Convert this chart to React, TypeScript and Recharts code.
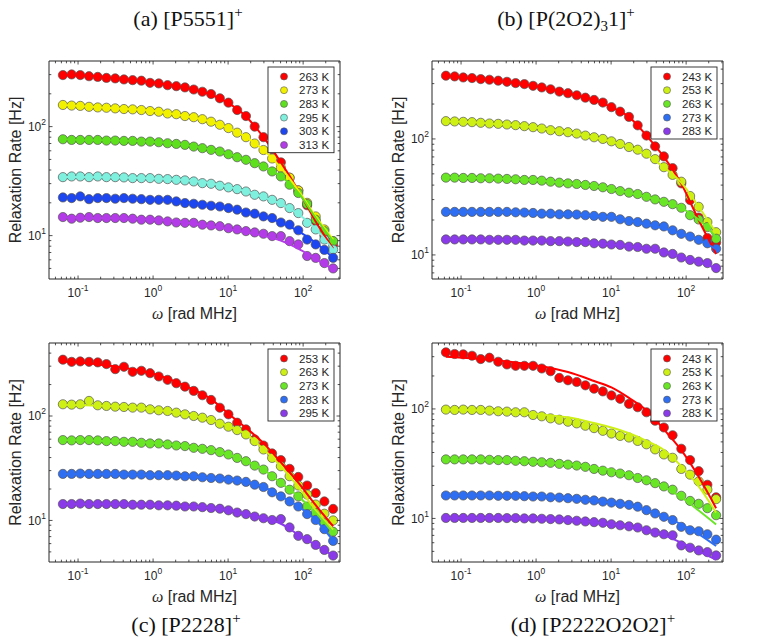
import React from 'react';
import { ComposedChart, Scatter, Line, XAxis, YAxis, ReferenceArea } from 'recharts';

const SANS = '"Liberation Sans", Arial, Helvetica, sans-serif';
const SERIF = '"Liberation Serif", "Times New Roman", serif';
const AX = '#262626';

// measured frequencies, rad MHz
const OMEGA = [0.0628, 0.0821, 0.107, 0.14, 0.183, 0.239, 0.313, 0.409, 0.534, 0.698, 0.912, 1.19, 1.56, 2.04, 2.66, 3.48, 4.54, 5.93, 7.76, 10.1, 13.2, 17.3, 22.6, 29.6, 38.6, 50.5, 66.0, 86.2, 113, 147, 192, 251];
// where the fitted curves are sampled
const FIT_OMEGA = [0.0628, 0.107, 0.239, 0.534, 1.19, 2.66, 5.93, 10.1, 17.3, 29.6, 50.5, 86.2, 147, 251];

const X_DOMAIN = [0.041, 310];
const X_TICKS = [0.05, 0.06, 0.07, 0.08, 0.09, 0.1, 0.2, 0.3, 0.4, 0.5, 0.6, 0.7, 0.8, 0.9, 1, 2, 3, 4, 5, 6, 7, 8, 9, 10, 20, 30, 40, 50, 60, 70, 80, 90, 100, 200, 300];

// (a) [P5551]+
const A_TEMPS = ['263 K', '273 K', '283 K', '295 K', '303 K', '313 K'];
const A_COLORS = ['#ff0000', '#f2f200', '#5ee01e', '#7ff0de', '#1e46f0', '#b43ce8'];
const a263 = [297, 301, 297, 290, 286, 280, 277, 271, 267, 264, 252, 249, 240, 235, 229, 219, 209, 199, 182, 166, 142, 125, 100, 80, 62, 47, 34, 26, 19, 13.5, 10, 8.2];
const a273 = [158, 156, 155, 152, 150, 149, 147, 145, 144, 142, 139, 137, 132, 130, 125, 122, 117, 111, 104, 97, 88, 80, 70, 61, 51, 42, 34, 26, 20, 15, 11.4, 8.9];
const a283 = [76.6, 75.5, 75.5, 75.5, 75.5, 74.5, 74.5, 74.0, 74.0, 72.9, 72.9, 71.9, 70.4, 69.4, 68.0, 65.6, 63.4, 61.2, 59.1, 55.8, 52.4, 49.6, 46.2, 43.1, 38.8, 34.9, 29.3, 24.6, 19.5, 14.0, 11.0, 8.9];
const a295 = [34.4, 34.9, 34.9, 34.4, 34.9, 34.4, 34.4, 34.2, 33.7, 33.7, 33.7, 33.2, 33.0, 32.5, 32.1, 31.4, 30.3, 29.9, 28.7, 27.7, 26.7, 25.4, 23.7, 22.9, 21.3, 19.9, 17.9, 16.1, 13.1, 11.4, 9.2, 7.45];
const a303 = [22.4, 22.1, 22.9, 21.6, 22.1, 22.1, 21.8, 22.1, 21.8, 21.6, 21.3, 21.3, 21.3, 20.6, 19.9, 19.6, 19.2, 18.8, 18.5, 17.9, 17.3, 16.3, 15.9, 15.0, 14.5, 13.2, 12.6, 11.2, 9.2, 8.3, 7.4, 6.25];
const a313 = [14.8, 14.3, 14.6, 14.8, 14.5, 14.5, 14.5, 14.5, 14.3, 14.0, 14.0, 13.8, 13.5, 13.2, 13.1, 13.1, 12.6, 12.4, 12.2, 11.7, 11.4, 11.0, 10.7, 10.4, 9.9, 9.9, 8.9, 8.3, 6.5, 6.25, 5.6, 5.0];
const a263Fit = [298, 296, 284, 268, 250, 228, 196, 164, 124, 80, 47, 26, 13.5, 7.6];
const a273Fit = [158, 155, 149, 144, 137, 125, 111, 97, 80, 61, 42, 26, 15, 9.2];
const a283Fit = [76.5, 75.5, 74.8, 74, 72, 68, 61.5, 56, 49.6, 43, 35, 24.8, 14.5, 8.9];
const a295Fit = [34.5, 34.5, 34.4, 34, 33.3, 32.2, 30.2, 28, 25.5, 22.5, 19.5, 15.8, 11.6, 7.45];
const a303Fit = [22.3, 22.2, 22.0, 21.8, 21.3, 20.2, 18.9, 17.9, 16.5, 15.0, 13.2, 11.0, 8.6, 6.25];
const a313Fit = [14.7, 14.6, 14.5, 14.3, 13.9, 13.2, 12.2, 11.5, 10.8, 10.0, 9.0, 7.6, 6.1, 4.9];

// (b) [P(2O2)3 1]+
const B_TEMPS = ['243 K', '253 K', '263 K', '273 K', '283 K'];
const BCD_COLORS = ['#ff0000', '#cff014', '#69e626', '#2e6ef2', '#8a3ae8'];
const b243 = [351, 346, 339, 335, 328, 324, 318, 311, 303, 297, 287, 278, 268, 256, 248, 238, 227, 217, 206, 188, 172, 155, 131, 107, 86.3, 70.7, 56, 41.4, 29.7, 21, 14, 12.8];
const b253 = [142.4, 141.5, 140.5, 139.6, 137.8, 135.9, 135, 133.2, 131.5, 128.9, 126.3, 123, 119, 116.6, 114.3, 111.3, 106.9, 103.4, 100, 95.4, 90.5, 85.2, 80.8, 74.6, 67, 57.1, 49, 42.8, 32.2, 26, 19.2, 15.7];
const b263 = [46.4, 46.4, 46.1, 46.1, 45.8, 45.8, 45.5, 45.2, 44.9, 44.3, 44.3, 43.7, 42.8, 42.0, 41.4, 40.9, 40.1, 39.3, 38.3, 37.0, 35.5, 34.4, 33.5, 31.7, 30.1, 28.7, 27.4, 25.5, 22.0, 20.2, 17.4, 13.8];
const b273 = [23.5, 23.5, 23.5, 23.5, 23.5, 23.5, 23.5, 23.5, 23.3, 23.2, 23.0, 22.7, 22.7, 22.4, 22.4, 22.3, 22.0, 21.7, 21.3, 21.3, 20.3, 19.6, 19.2, 18.6, 18.0, 17.6, 16.3, 15.2, 14.4, 13.5, 12.6, 11.3];
const b283 = [13.6, 13.6, 13.6, 13.6, 13.6, 13.5, 13.5, 13.5, 13.5, 13.3, 13.3, 13.3, 13.15, 13.15, 13.05, 12.9, 12.9, 12.6, 12.5, 12.3, 12.2, 11.8, 11.7, 11.3, 11.3, 10.5, 10.2, 9.5, 9.05, 8.75, 8.5, 7.7];
const b243Fit = [351, 339, 324, 303, 278, 248, 217, 188, 155, 107, 70, 41, 20, 10.2];
const b253Fit = [142, 140.5, 136, 131, 123, 114, 103, 95, 85, 73, 57, 42, 26, 15.5];
const b263Fit = [46.4, 46.1, 45.8, 44.9, 43.7, 41.4, 39.3, 37.0, 34.4, 31.7, 28.7, 25.5, 20.2, 14.2];
const b273Fit = [23.5, 23.5, 23.5, 23.3, 22.7, 22.4, 21.7, 21.2, 19.8, 18.4, 17.0, 15.2, 13.4, 11.2];
const b283Fit = [13.6, 13.6, 13.5, 13.5, 13.3, 13.05, 12.7, 12.3, 11.9, 11.3, 10.7, 9.6, 8.7, 7.7];

// (c) [P2228]+
const C_TEMPS = ['253 K', '263 K', '273 K', '283 K', '295 K'];
const c253 = [346, 330, 333, 330, 326, 314, 281, 296, 265, 271, 257, 239, 222, 206, 191, 174, 158, 142.5, 120, 103.7, 86.3, 74.4, 59.7, 52.2, 43.8, 37.8, 31.2, 26.1, 21.6, 18.3, 15.2, 12.9];
const c263 = [129.5, 128.5, 129.5, 139.4, 126.6, 124.8, 122.9, 122.0, 120.3, 120.3, 115.9, 113.4, 111.7, 107.7, 103.7, 100, 96.4, 91.5, 84.4, 79.0, 73.3, 66.6, 57.5, 47.8, 39.7, 33.0, 26.5, 21.6, 17.7, 14.2, 11.6, 10.0];
const c273 = [58.8, 58.4, 58.8, 58.8, 58.4, 57.5, 57.5, 56.6, 56.6, 55.4, 54.6, 54.6, 53.4, 52.2, 51.5, 49.6, 48.5, 47.1, 45.1, 42.8, 39.7, 36.9, 33.5, 30.7, 26.5, 22.9, 19.7, 17.0, 13.6, 11.8, 9.4, 7.8];
const c283 = [27.9, 27.9, 28.1, 27.9, 27.9, 27.9, 27.9, 27.5, 27.5, 27.5, 27.1, 27.1, 27.1, 26.9, 26.5, 26.5, 25.9, 25.5, 25.2, 24.6, 24.1, 23.4, 22.0, 20.9, 18.6, 17.0, 15.2, 13.6, 11.5, 10.1, 8.25, 6.37];
const c295 = [14.35, 14.35, 14.5, 14.35, 14.35, 14.35, 14.35, 14.35, 14.15, 14.15, 14.15, 13.95, 13.95, 13.85, 13.6, 13.6, 13.4, 13.15, 12.95, 12.5, 11.9, 11.5, 10.9, 10.5, 10.1, 10.3, 8.57, 7.12, 6.62, 5.83, 5.22, 4.61];
const c253Fit = [332, 325, 305, 280, 245, 195, 145, 105, 77, 55, 36, 23, 14, 8.8];
const c263Fit = [128, 127, 125, 121, 114, 104, 92, 80, 67, 48, 33, 21, 12.5, 8.2];
const c273Fit = [58.6, 58.6, 57.5, 56.6, 54.6, 51.5, 47.1, 42.8, 36.9, 30.7, 22.9, 17.0, 11.8, 7.6];
const c283Fit = [27.9, 27.9, 27.8, 27.5, 27.1, 26.5, 25.4, 24.6, 23.4, 20.9, 17.0, 13.6, 10.1, 6.4];
const c295Fit = [14.35, 14.35, 14.35, 14.15, 13.95, 13.6, 13.15, 12.5, 11.5, 10.5, 9.3, 7.3, 5.8, 4.6];

// (d) [P2222O2O2]+
const D_TEMPS = ['243 K', '253 K', '263 K', '273 K', '283 K'];
const d243 = [328.8, 317.4, 315.1, 306, 285.4, 293.6, 269.7, 254.7, 247.6, 247.6, 247.6, 234, 221, 191.9, 182.6, 176.2, 164.2, 153, 144.5, 132.8, 123.7, 111.2, 103.6, 93.2, 78.0, 67.7, 57.5, 43.3, 34.1, 27.0, 20.3, 15.6];
const d253 = [98.6, 97.9, 98.6, 97.9, 97.9, 96.5, 95.2, 94.5, 93.2, 93.2, 88.0, 85.6, 82.0, 79.7, 76.4, 73.8, 70.2, 66.8, 63.1, 59.6, 56.7, 54.8, 51.0, 47.5, 42.7, 38.4, 35.8, 28.3, 25.1, 21.8, 18.3, 15.0];
const d263 = [34.6, 34.6, 34.6, 34.6, 34.6, 34.3, 34.1, 34.1, 33.6, 33.3, 32.9, 32.6, 32.2, 31.5, 31.0, 30.4, 29.6, 28.3, 27.3, 26.4, 25.7, 24.8, 23.4, 22.3, 21.0, 19.6, 18.3, 16.1, 14.45, 13.6, 12.4, 10.7];
const d273 = [16.2, 16.2, 16.2, 16.2, 16.2, 16.2, 16.1, 16.1, 16.1, 15.96, 15.85, 15.85, 15.6, 15.5, 15.3, 15.1, 14.8, 14.6, 14.25, 13.95, 13.6, 13.3, 12.8, 11.9, 11.1, 10.35, 9.66, 8.38, 7.8, 7.64, 7.17, 6.4];
const d283 = [10.1, 10.1, 10.1, 10.1, 10.1, 10.1, 10.1, 10.07, 10.07, 10.0, 10.0, 9.93, 9.86, 9.79, 9.66, 9.52, 9.38, 9.25, 9.12, 8.85, 8.66, 8.47, 8.26, 7.8, 7.43, 7.17, 7.02, 5.67, 5.4, 5.1, 4.92, 4.59];
const d243Fit = [300, 294, 282, 266, 245, 217, 180, 157, 126, 97, 65, 42, 24, 12.4];
const d253Fit = [98.6, 97.9, 96.5, 93.2, 88.6, 83.8, 74.3, 67.7, 60, 51, 42.2, 30, 19.6, 11.3];
const d263Fit = [34.6, 34.6, 34.2, 33.6, 32.6, 31.3, 29.2, 27.6, 25.5, 22.6, 19.4, 15.6, 11.8, 8.8];
const d273Fit = [16.2, 16.2, 16.2, 16.1, 15.85, 15.3, 14.6, 13.9, 13.1, 11.9, 10.5, 8.8, 7.2, 5.6];
const d283Fit = [10.1, 10.1, 10.1, 10.05, 9.93, 9.66, 9.25, 8.85, 8.4, 7.8, 7.0, 6.0, 5.0, 4.2];

const Y_DOMAIN_A = [4, 400];
const Y_DOMAIN_B = [6.2, 470];
const Y_DOMAIN_C = [4, 500];
const Y_DOMAIN_D = [4, 400];
const Y_TICKS_A = [5, 6, 7, 8, 9, 10, 20, 30, 40, 50, 60, 70, 80, 90, 100, 200, 300];
const Y_TICKS_B = [7, 8, 9, 10, 20, 30, 40, 50, 60, 70, 80, 90, 100, 200, 300, 400];
const Y_TICKS_C = [5, 6, 7, 8, 9, 10, 20, 30, 40, 50, 60, 70, 80, 90, 100, 200, 300, 400];

const PANEL_W = 345;
const Y_AXIS_W = 49;
const X_AXIS_H = 40;
const M_TOP = 5;
const M_RIGHT = 5;
const MARGIN = { top: M_TOP, right: M_RIGHT, bottom: 0, left: 0 };

type Pt = { x: number; y: number };
type Series = { label: string; color: string; dots: Pt[]; fit: Pt[] };

const mk = (label: string, color: string, dots: number[], fit: number[]): Series => ({
  label,
  color,
  dots: OMEGA.map((x, i) => ({ x, y: dots[i] })),
  fit: FIT_OMEGA.map((x, i) => ({ x, y: fit[i] })),
});

const isDecade = (v: number) => Math.abs(Math.log10(v) - Math.round(Math.log10(v))) < 1e-6;

const XTick = (props: any) => {
  const { x, y, payload, top } = props;
  const v = payload.value;
  const major = isDecade(v);
  const len = major ? 3.5 : 2.3;
  return (
    <g>
      <line x1={x} x2={x} y1={y} y2={y - len} stroke={AX} strokeWidth={0.8} />
      <line x1={x} x2={x} y1={top} y2={top + len} stroke={AX} strokeWidth={0.8} />
      {major && (
        <text x={x} y={y + 18} textAnchor="middle" fontFamily={SANS} fontSize={12} fill={AX}>
          10<tspan dy={-6} fontSize={8.5}>{Math.round(Math.log10(v))}</tspan>
        </text>
      )}
    </g>
  );
};

const YTick = (props: any) => {
  const { x, y, payload, right } = props;
  const v = payload.value;
  const major = isDecade(v);
  const len = major ? 3.5 : 2.3;
  return (
    <g>
      <line x1={x} x2={x + len} y1={y} y2={y} stroke={AX} strokeWidth={0.8} />
      <line x1={right} x2={right - len} y1={y} y2={y} stroke={AX} strokeWidth={0.8} />
      {major && (
        <text x={x - 3} y={y + 4.3} textAnchor="end" fontFamily={SANS} fontSize={12} fill={AX}>
          10<tspan dy={-6} fontSize={8.5}>{Math.round(Math.log10(v))}</tspan>
        </text>
      )}
    </g>
  );
};

type PanelDef = {
  key: string;
  left: number;
  top: number;
  height: number;
  yDomain: number[];
  yTicks: number[];
  series: Series[];
  titleX: number;
  titleY: number;
  title: React.ReactNode;
};

const PANELS: PanelDef[] = [
  {
    key: 'a', left: 0, top: 56, height: 263, yDomain: Y_DOMAIN_A, yTicks: Y_TICKS_A, titleX: 188, titleY: 26,
    title: <>(a) [P5551]<tspan dy={-9} fontSize={15}>+</tspan></>,
    series: [
      mk(A_TEMPS[0], A_COLORS[0], a263, a263Fit),
      mk(A_TEMPS[1], A_COLORS[1], a273, a273Fit),
      mk(A_TEMPS[2], A_COLORS[2], a283, a283Fit),
      mk(A_TEMPS[3], A_COLORS[3], a295, a295Fit),
      mk(A_TEMPS[4], A_COLORS[4], a303, a303Fit),
      mk(A_TEMPS[5], A_COLORS[5], a313, a313Fit),
    ],
  },
  {
    key: 'b', left: 383, top: 56, height: 263, yDomain: Y_DOMAIN_B, yTicks: Y_TICKS_B, titleX: 566, titleY: 26,
    title: <>(b) [P(2O2)<tspan dy={5} fontSize={15}>3</tspan><tspan dy={-5}>1]</tspan><tspan dy={-9} fontSize={15}>+</tspan></>,
    series: [
      mk(B_TEMPS[0], BCD_COLORS[0], b243, b243Fit),
      mk(B_TEMPS[1], BCD_COLORS[1], b253, b253Fit),
      mk(B_TEMPS[2], BCD_COLORS[2], b263, b263Fit),
      mk(B_TEMPS[3], BCD_COLORS[3], b273, b273Fit),
      mk(B_TEMPS[4], BCD_COLORS[4], b283, b283Fit),
    ],
  },
  {
    key: 'c', left: 0, top: 338, height: 264, yDomain: Y_DOMAIN_C, yTicks: Y_TICKS_C, titleX: 186, titleY: 632,
    title: <>(c) [P2228]<tspan dy={-9} fontSize={15}>+</tspan></>,
    series: [
      mk(C_TEMPS[0], BCD_COLORS[0], c253, c253Fit),
      mk(C_TEMPS[1], BCD_COLORS[1], c263, c263Fit),
      mk(C_TEMPS[2], BCD_COLORS[2], c273, c273Fit),
      mk(C_TEMPS[3], BCD_COLORS[3], c283, c283Fit),
      mk(C_TEMPS[4], BCD_COLORS[4], c295, c295Fit),
    ],
  },
  {
    key: 'd', left: 383, top: 338, height: 264, yDomain: Y_DOMAIN_D, yTicks: Y_TICKS_A, titleX: 593, titleY: 632,
    title: <>(d) [P2222O2O2]<tspan dy={-9} fontSize={15}>+</tspan></>,
    series: [
      mk(D_TEMPS[0], BCD_COLORS[0], d243, d243Fit),
      mk(D_TEMPS[1], BCD_COLORS[1], d253, d253Fit),
      mk(D_TEMPS[2], BCD_COLORS[2], d263, d263Fit),
      mk(D_TEMPS[3], BCD_COLORS[3], d273, d273Fit),
      mk(D_TEMPS[4], BCD_COLORS[4], d283, d283Fit),
    ],
  },
];

const Panel = ({ p }: { p: PanelDef }) => {
  const plotRight = PANEL_W - M_RIGHT;
  const abs: React.CSSProperties = { position: 'absolute', left: p.left, top: p.top };
  return (
    <>
      {/* measured points with axes and frame */}
      <div style={abs}>
        <ComposedChart width={PANEL_W} height={p.height} margin={MARGIN}>
          <XAxis
            dataKey="x" type="number" scale="log" domain={X_DOMAIN} allowDataOverflow
            ticks={X_TICKS} interval={0} height={X_AXIS_H} tickSize={0} tickMargin={0}
            axisLine={false} tickLine={false}
            tick={(t: any) => <XTick {...t} top={M_TOP} />}
          />
          <YAxis
            dataKey="y" type="number" scale="log" domain={p.yDomain} allowDataOverflow
            ticks={p.yTicks} interval={0} width={Y_AXIS_W} tickSize={0} tickMargin={0}
            axisLine={false} tickLine={false}
            tick={(t: any) => <YTick {...t} right={plotRight} />}
          />
          <ReferenceArea
            x1={X_DOMAIN[0]} x2={X_DOMAIN[1]} y1={p.yDomain[0]} y2={p.yDomain[1]}
            fill="none" fillOpacity={0} stroke={AX} strokeWidth={1} ifOverflow="visible"
          />
          {p.series.map((s) => (
            <Scatter
              key={'pts' + s.label}
              data={s.dots}
              dataKey="y"
              isAnimationActive={false}
              shape={(d: any) => (
                <circle cx={d.cx} cy={d.cy} r={4.6} fill={s.color} stroke="#555" strokeWidth={0.7} />
              )}
            />
          ))}
        </ComposedChart>
      </div>
      {/* fitted curves, same scales, stacked on top of the points */}
      <div style={{ ...abs, pointerEvents: 'none' }}>
        <ComposedChart width={PANEL_W} height={p.height} margin={MARGIN}>
          <XAxis
            dataKey="x" type="number" scale="log" domain={X_DOMAIN} allowDataOverflow
            ticks={X_TICKS} height={X_AXIS_H} tick={false} axisLine={false} tickLine={false}
          />
          <YAxis
            dataKey="y" type="number" scale="log" domain={p.yDomain} allowDataOverflow
            ticks={p.yTicks} width={Y_AXIS_W} tick={false} axisLine={false} tickLine={false}
          />
          {p.series.map((s) => (
            <Line
              key={'fit' + s.label}
              data={s.fit}
              dataKey="y"
              type="monotone"
              stroke={s.color}
              strokeWidth={2}
              dot={false}
              activeDot={false}
              isAnimationActive={false}
            />
          ))}
        </ComposedChart>
      </div>
    </>
  );
};

const Overlay = () => (
  <svg width={758} height={642} style={{ position: 'absolute', left: 0, top: 0, pointerEvents: 'none' }}>
    {PANELS.map((p) => {
      const plotLeft = p.left + Y_AXIS_W;
      const plotRight = p.left + PANEL_W - M_RIGHT;
      const plotTop = p.top + M_TOP;
      const plotBottom = p.top + p.height - X_AXIS_H;
      const midY = (plotTop + plotBottom) / 2;
      const midX = (plotLeft + plotRight) / 2;
      const boxL = plotRight - 72;
      const boxT = plotTop + 6;
      const rowH = 13.7;
      const boxH = p.series.length * rowH + 3.5;
      return (
        <g key={p.key}>
          <text x={p.titleX} y={p.titleY} textAnchor="middle" fontFamily={SERIF} fontSize={22} fill="#111">
            {p.title}
          </text>
          <text
            transform={`translate(${plotLeft - 34},${midY}) rotate(-90)`}
            textAnchor="middle" dominantBaseline="central" fontFamily={SANS} fontSize={16} fill={AX}
          >
            Relaxation Rate [Hz]
          </text>
          <text x={midX} y={plotBottom + 34} textAnchor="middle" dominantBaseline="central" fontFamily={SANS} fontSize={16} fill={AX}>
            <tspan fontFamily={SERIF} fontStyle="italic">ω</tspan> [rad MHz]
          </text>
          <rect x={boxL} y={boxT} width={66} height={boxH} fill="#fff" stroke={AX} strokeWidth={0.9} />
          {p.series.map((s, i) => {
            const cy = boxT + 9.5 + i * rowH;
            return (
              <g key={s.label}>
                <circle cx={boxL + 16} cy={cy} r={3.5} fill={s.color} stroke="#555" strokeWidth={0.6} />
                <text x={boxL + 31} y={cy + 4} fontFamily={SANS} fontSize={11.5} fill={AX}>
                  {s.label}
                </text>
              </g>
            );
          })}
        </g>
      );
    })}
  </svg>
);

export default function App() {
  return (
    <div style={{ position: 'absolute', left: 0, top: 0, width: 758, height: 642, background: '#fff' }}>
      {PANELS.map((p) => (
        <Panel key={p.key} p={p} />
      ))}
      <Overlay />
    </div>
  );
}
